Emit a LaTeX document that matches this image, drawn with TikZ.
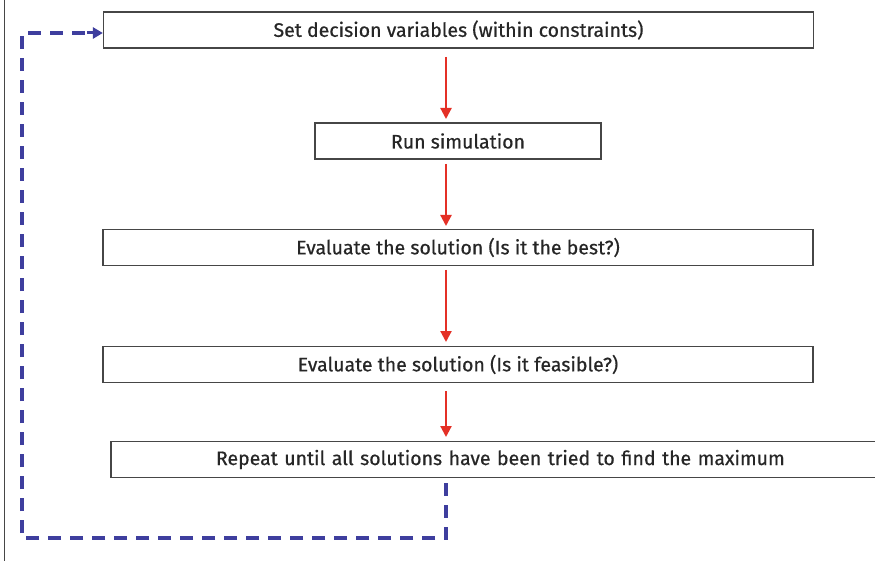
\documentclass[tikz,border=0pt]{standalone}
\usepackage{fontspec}
\setmainfont{Fira Sans}[FakeBold=0.5]
\usetikzlibrary{arrows.meta}
\definecolor{redarr}{RGB}{228,48,38}
\definecolor{bluedash}{RGB}{62,62,158}
\definecolor{boxline}{RGB}{70,70,70}
\begin{document}
\begin{tikzpicture}[x=1pt,y=-1pt,
  stepbox/.style={draw=boxline,line width=1.2pt,fill=white,minimum height=36pt,inner sep=0pt,font=\fontsize{19.5}{22}\selectfont,text=black!85},
  redflow/.style={draw=redarr,line width=2.2pt,-{Triangle[length=11pt,width=11pt]}},
  loop/.style={draw=bluedash,line width=3.5pt,dash pattern=on 13pt off 9pt}]
\useasboundingbox (0,0) rectangle (875,561);
\fill[white] (0,0) rectangle (875,561);
\draw[boxline,line width=1pt] (4,0) -- (4,561);
\node[stepbox,minimum width=710pt] (b1) at (458.5,30) {Set decision variables (within constraints)};
\node[stepbox,minimum width=286pt] (b2) at (458,141) {Run simulation};
\node[stepbox,minimum width=710pt] (b3) at (458,247.5) {Evaluate the solution (Is it the best?)};
\node[stepbox,minimum width=710pt] (b4) at (458,364.5) {Evaluate the solution (Is it feasible?)};
\begin{scope}
\clip (0,0) rectangle (875,561);
\node[stepbox,minimum width=790pt,text width=780pt,align=left] (b5) at (506,459.5) {\hspace{100pt}Repeat until all solutions have been tried to find the maximum};
\end{scope}
\coordinate (a1s) at (446,57);
\coordinate (a1e) at (446,119);
\coordinate (a2s) at (446,164);
\coordinate (a2e) at (446,226);
\coordinate (a3s) at (446,270);
\coordinate (a3e) at (446,342);
\coordinate (a4s) at (446,391);
\coordinate (a4e) at (446,437);
\draw[redflow] (a1s) -- (a1e);
\draw[redflow] (a2s) -- (a2e);
\draw[redflow] (a3s) -- (a3e);
\draw[redflow] (a4s) -- (a4e);
\coordinate (l1) at (446,483);
\coordinate (l2) at (446,538);
\coordinate (l3) at (22,538);
\coordinate (l4) at (22,33);
\draw[loop] (l1) -- (l2) -- (l3) -- (l4) -- ([xshift=-14pt]b1.west |- l4);
\draw[bluedash,line width=3pt,-{Triangle[length=10pt,width=11pt]}] ([xshift=-16pt]b1.west |- l4) -- (b1.west |- l4);
\end{tikzpicture}
\end{document}
